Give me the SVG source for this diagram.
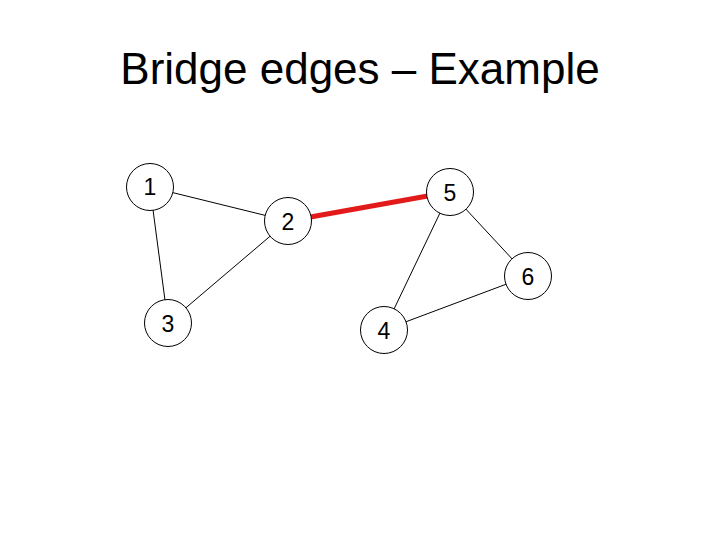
<svg xmlns="http://www.w3.org/2000/svg" width="720" height="540" viewBox="0 0 720 540">
<style>
.n circle{fill:#fff;stroke:#000;stroke-width:1}
.n text{font-family:"Liberation Sans",Arial,sans-serif;font-size:23px;text-anchor:middle;fill:#000}
.e line{stroke:#000;stroke-width:1}
.title{font-family:"Liberation Sans",Arial,sans-serif;font-size:44px;text-anchor:middle;fill:#000}
</style>
<rect width="720" height="540" fill="#fff"/>
<text class="title" x="360" y="84">Bridge edges – Example</text>
<g id="edges" class="e">
<line x1="150" y1="187" x2="288" y2="221"/>
<line x1="150" y1="187" x2="168" y2="323"/>
<line x1="288" y1="221" x2="168" y2="323"/>
<line x1="288" y1="221" x2="450" y2="192" style="stroke:#e31a1a;stroke-width:5"/>
<line x1="450" y1="192" x2="384" y2="330"/>
<line x1="450" y1="192" x2="528" y2="276"/>
<line x1="384" y1="330" x2="528" y2="276"/>
</g>
<g id="n1" class="n"><circle cx="150" cy="187" r="23.5"/><text x="150" y="195">1</text></g>
<g id="n2" class="n"><circle cx="288" cy="221" r="23.5"/><text x="288" y="230">2</text></g>
<g id="n5" class="n"><circle cx="450" cy="192" r="23.5"/><text x="450" y="201">5</text></g>
<g id="n6" class="n"><circle cx="528" cy="276" r="23.5"/><text x="528" y="285">6</text></g>
<g id="n3" class="n"><circle cx="168" cy="323" r="23.5"/><text x="168" y="332">3</text></g>
<g id="n4" class="n"><circle cx="384" cy="330" r="23.5"/><text x="384" y="339">4</text></g>
</svg>
